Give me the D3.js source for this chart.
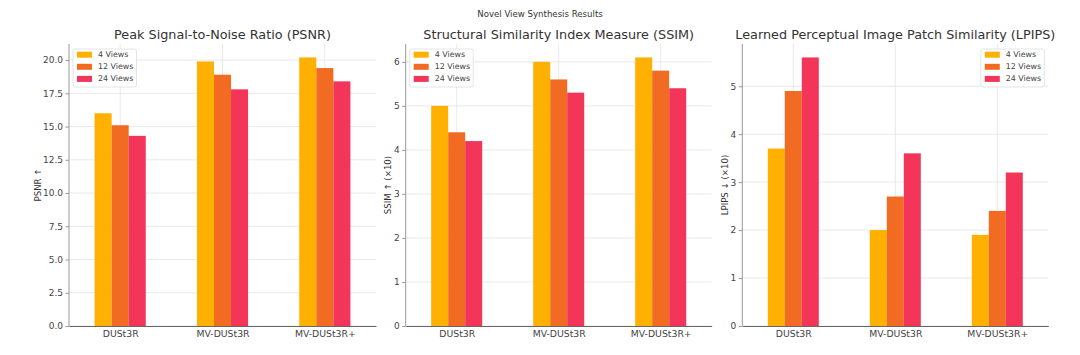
<!DOCTYPE html>
<html><head><meta charset="utf-8">
<script src="https://cdn.jsdelivr.net/npm/d3@7"></script>
<style>
body{margin:0;background:#fff;}
svg{display:block;font-family:"DejaVu Sans",sans-serif;}
</style></head>
<body>
<svg id="c" width="1080" height="355"></svg>
<script>
const methods = ["DUSt3R", "MV-DUSt3R", "MV-DUSt3R+"];
const seriesNames = ["4 Views", "12 Views", "24 Views"];
const seriesColors = ["#FFB000", "#F26B22", "#F23558"];
const psnr4 = [16.0, 19.9, 20.2];
const psnr12 = [15.1, 18.9, 19.4];
const psnr24 = [14.3, 17.8, 18.4];
const ssim4 = [5.0, 6.0, 6.1];
const ssim12 = [4.4, 5.6, 5.8];
const ssim24 = [4.2, 5.3, 5.4];
const lpips4 = [3.7, 2.0, 1.9];
const lpips12 = [4.9, 2.7, 2.4];
const lpips24 = [5.6, 3.6, 3.2];
const psnrTicks = [0, 2.5, 5, 7.5, 10, 12.5, 15, 17.5, 20];
const ssimTicks = [0, 1, 2, 3, 4, 5, 6];
const lpipsTicks = [0, 1, 2, 3, 4, 5];
const titles = ["Peak Signal-to-Noise Ratio (PSNR)", "Structural Similarity Index Measure (SSIM)", "Learned Perceptual Image Patch Similarity (LPIPS)"];
const yLabels = ["PSNR ↑", "SSIM ↑ (×10)", "LPIPS ↓ (×10)"];
const supTitle = "Novel View Synthesis Results";

const panels = [
  {series:[psnr4, psnr12, psnr24], ticks:psnrTicks, fmt:d3.format(".1f"), x0:69, x1:376, ylx:38, legend:"left"},
  {series:[ssim4, ssim12, ssim24], ticks:ssimTicks, fmt:d3.format("d"), x0:405.7, x1:711.7, ylx:388, legend:"left"},
  {series:[lpips4, lpips12, lpips24], ticks:lpipsTicks, fmt:d3.format("d"), x0:742.3, x1:1048.3, ylx:725, legend:"right"}
];
const yTop = 44, yBot = 326;
const svg = d3.select("#c");

svg.append("text").attr("x", 540).attr("y", 17).attr("text-anchor","middle")
  .attr("font-size", 8.6).attr("fill","#333").text(supTitle);

panels.forEach((p, pi) => {
  const g = svg.append("g");
  const x = d3.scaleLinear().domain([-0.5, 2.5]).range([p.x0, p.x1]);
  const maxV = d3.max(p.series.flat());
  const y = d3.scaleLinear().domain([0, maxV * 1.05]).range([yBot, yTop]);
  const bw = 1/6;

  // grid
  g.append("g").selectAll("line.h").data(p.ticks).join("line")
    .attr("x1", p.x0).attr("x2", p.x1).attr("y1", d=>y(d)).attr("y2", d=>y(d))
    .attr("stroke","#e3e3e3").attr("stroke-width",0.8);
  g.append("g").selectAll("line.v").data(methods.map((m,i)=>i)).join("line")
    .attr("x1", d=>x(d)).attr("x2", d=>x(d)).attr("y1", yTop).attr("y2", yBot)
    .attr("stroke","#e3e3e3").attr("stroke-width",0.8);

  // bars
  p.series.forEach((vals, si) => {
    g.append("g").selectAll("rect").data(vals).join("rect")
      .attr("x", (d,i)=>x(i + (si-1)*bw - bw/2))
      .attr("width", x(bw) - x(0))
      .attr("y", d=>y(d)).attr("height", d=>yBot - y(d))
      .attr("fill", seriesColors[si]);
  });

  // axes
  const ya = d3.axisLeft(y).tickValues(p.ticks).tickFormat(p.fmt).tickSize(3.5).tickPadding(2.5);
  const yg = g.append("g").attr("transform",`translate(${p.x0},0)`).call(ya);
  yg.select(".domain").attr("stroke","#999").attr("d", `M0,${yBot}V${yTop}`);
  yg.selectAll(".tick line").attr("stroke","#999");
  yg.selectAll(".tick text").attr("font-size", 9).attr("fill","#444").attr("font-family","DejaVu Sans");

  const xa = d3.axisBottom(x).tickValues([0,1,2]).tickFormat(i=>methods[i]).tickSize(0).tickPadding(4);
  const xg = g.append("g").attr("transform",`translate(0,${yBot})`).call(xa);
  xg.select(".domain").attr("stroke","#666").attr("stroke-width",1.1);
  xg.selectAll(".tick text").attr("font-size", 9.3).attr("fill","#444").attr("font-family","DejaVu Sans");

  // title
  g.append("text").attr("x", (p.x0+p.x1)/2).attr("y", 39).attr("text-anchor","middle")
    .attr("font-size", 12.8).attr("fill","#333").text(titles[pi]);

  // y label
  g.append("text").attr("transform",`translate(${p.ylx},${(yTop+yBot)/2}) rotate(-90)`)
    .attr("text-anchor","middle").attr("dominant-baseline","middle")
    .attr("font-size", 8.6).attr("fill","#333").text(yLabels[pi]);

  // legend
  const lw = 63.5, lh = 38;
  const lx = p.legend === "left" ? p.x0 + 4 : p.x1 - 4 - lw;
  const ly = 49;
  const lg = g.append("g").attr("transform",`translate(${lx},${ly})`);
  lg.append("rect").attr("width", lw).attr("height", lh).attr("rx",2)
    .attr("fill","#fff").attr("fill-opacity",0.85).attr("stroke","#ddd").attr("stroke-width",0.8);
  seriesNames.forEach((s, si) => {
    const cy = 5.7 + si*12.1;
    lg.append("rect").attr("x", 4).attr("y", cy-3).attr("width", 15).attr("height", 6).attr("fill", seriesColors[si]);
    lg.append("text").attr("x", 25).attr("y", cy).attr("dominant-baseline","middle")
      .attr("font-size", 7.9).attr("fill","#444").text(s);
  });
});
</script>
</body></html>
